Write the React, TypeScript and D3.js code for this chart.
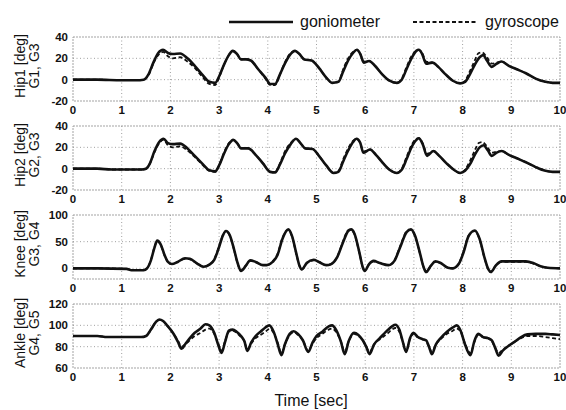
import React from "react";
import * as d3 from "d3";

type P = [number, number];

const xTicks = [0, 1, 2, 3, 4, 5, 6, 7, 8, 9, 10];

const hip1Gonio: P[] = [[0,0],[0.5,0],[1.0,-0.5],[1.3,-0.5],[1.45,0],[1.55,5],[1.65,16],[1.75,25],[1.85,28],[1.95,25],[2.05,24],[2.2,24.5],[2.35,20],[2.5,13],[2.65,5],[2.8,-2],[2.92,-3],[3.0,3],[3.1,14],[3.2,23],[3.28,27],[3.37,24],[3.45,19],[3.55,19],[3.65,18],[3.8,10],[3.95,2],[4.05,-4],[4.15,-4],[4.25,5],[4.35,15],[4.45,23],[4.56,27],[4.65,24],[4.75,19],[4.9,18],[5.05,11],[5.2,2],[5.32,-3],[5.45,-2],[5.55,8],[5.65,18],[5.75,25],[5.83,28],[5.9,24],[5.97,16],[6.08,17.5],[6.2,13],[6.35,5],[6.5,-1],[6.65,-3],[6.75,0],[6.85,10],[6.95,20],[7.05,27],[7.1,28],[7.17,24],[7.25,15],[7.38,16],[7.5,12],[7.65,5],[7.8,-1],[7.95,-3.5],[8.05,-2],[8.15,5],[8.25,14],[8.35,21],[8.42,23],[8.5,18],[8.6,12],[8.7,15],[8.8,17],[8.95,13],[9.1,10],[9.3,6],[9.5,1],[9.7,-2],[9.85,-3],[10,-3]];
const hip1Gyro: P[] = [[0,0],[0.5,0],[1.0,-0.5],[1.3,-0.5],[1.45,0],[1.55,4],[1.65,15],[1.75,23],[1.85,26],[1.95,22],[2.05,20],[2.2,21],[2.35,17],[2.5,11],[2.65,3],[2.8,-4],[2.92,-5],[3.0,2],[3.1,14],[3.2,23],[3.28,27],[3.37,24],[3.45,19],[3.55,19.5],[3.65,18],[3.8,10],[3.95,1],[4.05,-5],[4.15,-5],[4.25,5],[4.35,16],[4.45,24],[4.56,27],[4.65,24],[4.75,19],[4.9,18],[5.05,11],[5.2,2],[5.32,-3],[5.45,-2],[5.55,10],[5.65,20],[5.75,26],[5.83,28],[5.9,24],[5.97,17],[6.08,17.5],[6.2,13],[6.35,5],[6.5,-1],[6.65,-3],[6.75,1],[6.85,12],[6.95,22],[7.05,27],[7.1,28],[7.17,25],[7.25,17],[7.38,16],[7.5,12],[7.65,5],[7.8,-1],[7.95,-3.5],[8.05,-1],[8.15,8],[8.25,18],[8.33,25],[8.4,25.5],[8.5,21],[8.6,15],[8.7,16],[8.8,17],[8.95,13],[9.1,10],[9.3,6],[9.5,1],[9.7,-2],[9.85,-3],[10,-3]];

const hip2Gonio: P[] = [[0,0],[0.5,0],[0.8,-0.8],[1.4,-0.8],[1.5,0],[1.58,5],[1.67,16],[1.77,25],[1.86,28],[1.95,24],[2.05,23],[2.2,23.5],[2.35,19],[2.5,12],[2.65,5],[2.8,-1.5],[2.92,-2.5],[3.0,3],[3.1,14],[3.2,23],[3.29,27],[3.37,24],[3.45,19],[3.6,19],[3.75,13],[3.9,5],[4.05,-3],[4.15,-3.5],[4.25,4],[4.35,14],[4.47,23],[4.58,28],[4.67,24],[4.77,19],[4.92,18.5],[5.05,12],[5.2,3],[5.35,-4],[5.45,-3],[5.55,7],[5.65,17],[5.75,25],[5.82,28],[5.9,24],[5.96,15],[6.1,18],[6.22,13],[6.37,5],[6.5,-1],[6.65,-4],[6.75,-1],[6.85,9],[6.95,20],[7.05,27],[7.1,28.5],[7.18,23],[7.27,12],[7.4,16.5],[7.52,12],[7.67,5],[7.82,-1],[7.95,-4],[8.05,-2],[8.15,4],[8.25,13],[8.35,20],[8.43,22],[8.52,17],[8.6,12],[8.7,15],[8.8,16.5],[8.95,13],[9.1,10],[9.3,6],[9.5,1.5],[9.7,-2],[9.85,-3],[10,-3]];
const hip2Gyro: P[] = [[0,0],[0.5,0],[0.8,-0.8],[1.4,-0.8],[1.5,0],[1.58,5],[1.67,15],[1.77,24],[1.86,27],[1.95,22],[2.05,20],[2.2,21],[2.35,17],[2.5,11],[2.65,4],[2.8,-2],[2.92,-3],[3.0,3],[3.1,15],[3.2,24],[3.29,27],[3.37,24],[3.45,19.5],[3.6,19],[3.75,13],[3.9,5],[4.05,-3],[4.15,-3.5],[4.25,5],[4.35,16],[4.47,24],[4.58,28],[4.67,24],[4.77,19],[4.92,18.5],[5.05,12],[5.2,3],[5.35,-4],[5.45,-2],[5.55,9],[5.65,19],[5.75,26],[5.82,28],[5.9,24],[5.96,16],[6.1,18],[6.22,13],[6.37,5],[6.5,-1],[6.65,-4],[6.75,0],[6.85,11],[6.95,22],[7.05,28],[7.1,28.5],[7.18,24],[7.27,14],[7.4,16.5],[7.52,12],[7.67,5],[7.82,-1],[7.95,-4],[8.05,-1],[8.15,7],[8.25,17],[8.33,24],[8.4,25],[8.5,21],[8.6,15],[8.7,16],[8.8,16.5],[8.95,13],[9.1,10],[9.3,6],[9.5,1.5],[9.7,-2],[9.85,-3],[10,-3]];

const kneeGonio: P[] = [[0,0],[0.5,0],[1.1,-1],[1.2,-3.5],[1.45,-3.5],[1.52,0],[1.6,15],[1.67,38],[1.73,52],[1.8,45],[1.88,25],[1.95,12],[2.03,8],[2.15,12],[2.3,19],[2.4,18],[2.55,9],[2.68,3],[2.8,7],[2.9,16],[3.0,40],[3.08,62],[3.14,70],[3.22,62],[3.3,38],[3.38,10],[3.45,-5],[3.55,5],[3.64,15],[3.75,12],[3.9,6],[3.98,6],[4.1,12],[4.2,25],[4.3,55],[4.42,73],[4.5,60],[4.58,30],[4.65,5],[4.7,-2],[4.8,10],[4.94,16],[5.05,12],[5.2,6],[5.3,8],[5.42,20],[5.55,50],[5.65,70],[5.71,73],[5.78,65],[5.88,30],[5.95,2],[5.99,-5],[6.08,8],[6.17,14],[6.3,10],[6.48,6],[6.6,14],[6.72,40],[6.85,68],[6.94,73],[7.02,62],[7.12,30],[7.2,2],[7.25,-7],[7.35,5],[7.44,13],[7.55,10],[7.7,1],[7.8,0],[7.92,8],[8.02,30],[8.12,60],[8.25,71],[8.35,55],[8.45,20],[8.53,-2],[8.58,-7],[8.68,5],[8.8,13],[9.0,13],[9.3,13],[9.45,10],[9.6,4],[9.75,1],[10,0]];
const kneeGyro: P[] = [[0,0],[0.5,0],[1.1,-1],[1.2,-3],[1.45,-3],[1.52,0],[1.6,16],[1.67,39],[1.73,51],[1.8,44],[1.88,24],[1.95,12],[2.03,8],[2.15,12],[2.3,18],[2.4,17],[2.55,9],[2.68,3],[2.8,7],[2.9,17],[3.0,42],[3.08,63],[3.14,70],[3.22,61],[3.3,37],[3.38,9],[3.45,-4],[3.55,5],[3.64,14],[3.75,12],[3.9,6],[3.98,6],[4.1,13],[4.2,27],[4.3,57],[4.42,72],[4.5,59],[4.58,29],[4.65,5],[4.7,-2],[4.8,10],[4.94,15],[5.05,12],[5.2,6],[5.3,8],[5.42,21],[5.55,52],[5.65,71],[5.71,72],[5.78,64],[5.88,29],[5.95,2],[5.99,-4],[6.08,8],[6.17,13],[6.3,10],[6.48,6],[6.6,15],[6.72,42],[6.85,69],[6.94,72],[7.02,61],[7.12,29],[7.2,2],[7.25,-6],[7.35,5],[7.44,12],[7.55,10],[7.7,1],[7.8,0],[7.92,9],[8.02,32],[8.12,61],[8.25,70],[8.35,54],[8.45,19],[8.53,-2],[8.58,-6],[8.68,5],[8.8,12],[9.0,12],[9.3,12],[9.45,9],[9.6,4],[9.75,1],[10,0]];

const ankleGonio: P[] = [[0,90],[0.5,90],[0.7,89],[1.4,89],[1.5,90],[1.6,96],[1.7,103],[1.77,105.5],[1.85,104],[1.93,100],[2.05,93],[2.15,85],[2.23,78],[2.3,82],[2.4,88],[2.5,93],[2.62,97],[2.72,101],[2.8,100],[2.9,93],[2.98,82],[3.05,74],[3.12,84],[3.2,95],[3.28,96],[3.36,94],[3.45,90],[3.52,85],[3.58,76],[3.66,84],[3.75,90],[3.85,94],[3.95,98],[4.03,100],[4.12,94],[4.2,83],[4.28,72],[4.35,82],[4.45,92],[4.53,94.5],[4.62,92],[4.72,86],[4.83,75],[4.92,84],[5.0,90],[5.12,94],[5.25,99],[5.32,100],[5.4,96],[5.5,85],[5.58,73],[5.66,85],[5.77,93],[5.86,91],[5.95,86],[6.02,80],[6.09,73],[6.18,82],[6.3,88],[6.45,95],[6.55,99],[6.62,100.5],[6.7,96],[6.77,85],[6.84,75],[6.92,88],[6.99,93],[7.08,89],[7.18,87],[7.25,86],[7.31,80],[7.37,73],[7.45,82],[7.55,88],[7.68,94],[7.8,98],[7.88,100],[7.96,95],[8.05,82],[8.16,72],[8.24,85],[8.32,92],[8.42,89],[8.52,88],[8.6,86],[8.66,80],[8.74,71.5],[8.82,76],[8.95,81],[9.05,84],[9.2,89],[9.33,91.5],[9.5,92],[9.7,92],[9.85,91.5],[10,91]];
const ankleGyro: P[] = [[0,90],[0.5,90],[0.7,89],[1.4,89],[1.5,90],[1.6,96],[1.7,103],[1.77,105],[1.85,104],[1.93,100],[2.05,93],[2.15,86],[2.23,80],[2.3,82],[2.4,86],[2.5,90],[2.62,93],[2.72,96],[2.8,97],[2.9,92],[2.98,83],[3.05,76],[3.12,85],[3.2,94],[3.28,95],[3.36,93],[3.45,89],[3.52,85],[3.58,77],[3.66,83],[3.75,88],[3.85,91],[3.95,94],[4.03,96.5],[4.12,93],[4.2,84],[4.28,74],[4.35,82],[4.45,91],[4.53,93.5],[4.62,91],[4.72,86],[4.83,76],[4.92,83],[5.0,88],[5.12,92],[5.25,96],[5.32,97],[5.4,94],[5.5,85],[5.58,75],[5.66,85],[5.77,92],[5.86,90],[5.95,86],[6.02,80],[6.09,75],[6.18,82],[6.3,87],[6.45,92],[6.55,96],[6.62,97.5],[6.7,94],[6.77,85],[6.84,76],[6.92,87],[6.99,92],[7.08,89],[7.18,87],[7.25,85],[7.31,80],[7.37,75],[7.45,82],[7.55,87],[7.68,92],[7.8,95],[7.88,97],[7.96,94],[8.05,83],[8.16,74],[8.24,84],[8.32,91],[8.42,89],[8.52,88],[8.6,85],[8.66,80],[8.74,74],[8.82,77],[8.95,81],[9.05,84],[9.2,88],[9.33,90],[9.5,90],[9.7,89],[9.85,88],[10,87]];

const panelLabels: [string, string][] = [
  ["Hip1 [deg]", "G1, G3"],
  ["Hip2 [deg]", "G2, G3"],
  ["Knee [deg]", "G3, G4"],
  ["Ankle [deg]", "G4, G5"],
];
const yDomains: [number, number][] = [[-20, 40], [-20, 40], [-20, 100], [60, 120]];
const yTickSets: number[][] = [[-20, 0, 20, 40], [-20, 0, 20, 40], [0, 50, 100], [60, 80, 100, 120]];
const gonioSeries = [hip1Gonio, hip2Gonio, kneeGonio, ankleGonio];
const gyroSeries = [hip1Gyro, hip2Gyro, kneeGyro, ankleGyro];

const W = 566, H = 410;
const left = 73, right = 560;
const tops = [37, 126, 215, 304];
const ph = 64;
const font = "'Liberation Sans', Arial, sans-serif";

export default function App() {
  const x = d3.scaleLinear().domain([0, 10]).range([left, right]);
  return (
    <svg width={W} height={H} style={{ position: "absolute", left: 0, top: 0, background: "#fff" }} fontFamily={font}>
      <rect x={0} y={0} width={W} height={H} fill="#fff" />
      <line x1={229} x2={293} y1={22} y2={22} stroke="#111" strokeWidth={2.4} />
      <text x={300} y={27} fontSize={16} fill="#111">goniometer</text>
      <line x1={413} x2={476} y1={22} y2={22} stroke="#111" strokeWidth={1.8} strokeDasharray="4,2.5" />
      <text x={485} y={27} fontSize={16} fill="#111">gyroscope</text>
      {tops.map((top, i) => {
        const y = d3.scaleLinear().domain(yDomains[i]).range([top + ph, top]);
        const line = d3.line<P>().x(d => x(d[0])).y(d => y(d[1])).curve(d3.curveMonotoneX);
        const cy = top + ph / 2 - 3;
        return (
          <g key={i}>
            {xTicks.slice(1, -1).map(t => (
              <line key={"gx" + t} x1={x(t)} x2={x(t)} y1={top} y2={top + ph} stroke="#888" strokeWidth={0.8} strokeDasharray="1,2.5" />
            ))}
            {yTickSets[i].filter(v => v !== yDomains[i][0] && v !== yDomains[i][1]).map(v => (
              <line key={"gy" + v} x1={left} x2={right} y1={y(v)} y2={y(v)} stroke="#888" strokeWidth={0.8} strokeDasharray="1,2.5" />
            ))}
            <rect x={left} y={top} width={right - left} height={ph} fill="none" stroke="#999" strokeWidth={0.9} strokeDasharray="2,1" />
            <path d={line(gyroSeries[i]) || ""} fill="none" stroke="#111" strokeWidth={1.8} strokeDasharray="4,2.5" />
            <path d={line(gonioSeries[i]) || ""} fill="none" stroke="#111" strokeWidth={2.6} strokeLinejoin="round" />
            {xTicks.map(t => (
              <text key={"xl" + t} x={x(t)} y={top + ph + 13} fontSize={11.5} fontWeight="bold" textAnchor="middle" fill="#111">{t}</text>
            ))}
            {yTickSets[i].map(v => (
              <text key={"yl" + v} x={68} y={y(v) + 4} fontSize={11.5} fontWeight="bold" textAnchor="end" fill="#111">{v}</text>
            ))}
            <text transform={`translate(25,${cy}) rotate(-90)`} fontSize={14} textAnchor="middle" fill="#111">{panelLabels[i][0]}</text>
            <text transform={`translate(39,${cy}) rotate(-90)`} fontSize={14} textAnchor="middle" fill="#111">{panelLabels[i][1]}</text>
          </g>
        );
      })}
      <text x={311} y={406} fontSize={16} textAnchor="middle" fill="#111">Time [sec]</text>
    </svg>
  );
}
